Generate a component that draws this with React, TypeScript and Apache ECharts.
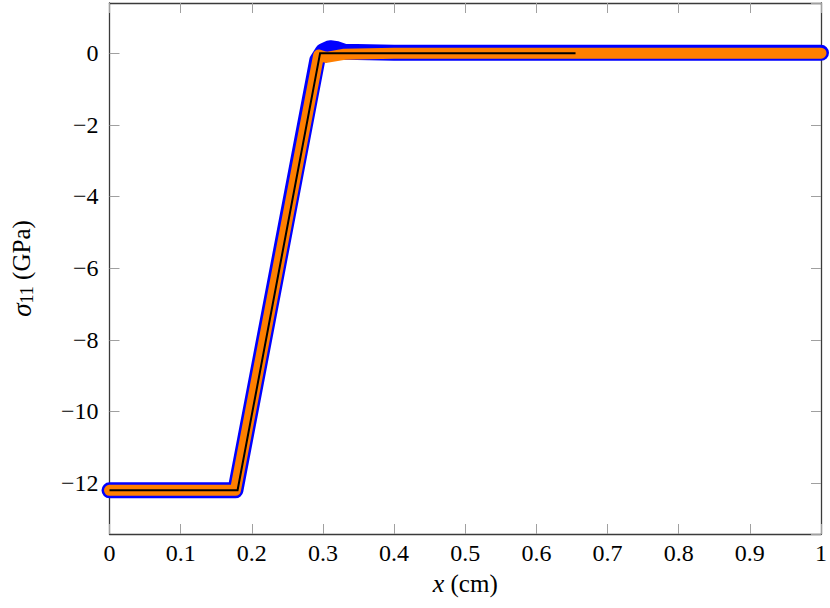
import React, { useEffect, useRef } from "react";
import * as echarts from "echarts";

const blueX = [0, 0.177, 0.292, 0.3, 0.31, 0.32, 0.33, 0.4, 0.65, 1.0];
const blueY = [-12.2, -12.2, -0.2, 0.05, 0.14, 0.11, 0.04, 0.01, 0.01, 0.01];

const orangeX = [0, 0.177, 0.294, 0.305, 0.33, 0.4, 1.0];
const orangeY = [-12.2, -12.2, -0.05, -0.12, -0.03, 0.0, 0.0];

const blackX = [0, 0.18, 0.296, 0.655];
const blackY = [-12.2, -12.2, 0.0, 0.0];

const xTicks = [0, 0.1, 0.2, 0.3, 0.4, 0.5, 0.6, 0.7, 0.8, 0.9, 1];
const yTicks = [-12, -10, -8, -6, -4, -2, 0];

const FONT = "'Liberation Serif', 'DejaVu Serif', serif";

function pairs(xs: number[], ys: number[]) {
  return xs.map((x, i) => [x, ys[i]]);
}

export default function App() {
  const ref = useRef<HTMLDivElement>(null);
  useEffect(() => {
    document.body.style.margin = "0";
    const chart = echarts.init(ref.current!, undefined, { renderer: "svg" });
    const axisLine = { show: true, onZero: false, lineStyle: { color: "#3a3a3a", width: 1.3 } };
    const tick = { show: true, inside: true, length: 10, lineStyle: { color: "#a0a0a0", width: 1 } };
    const xBase = { type: "value", min: 0, max: 1, interval: 0.1, splitLine: { show: false }, axisLine, axisTick: tick };
    const yBase = { type: "value", min: -13.42, max: 1.4, splitNumber: 7, splitLine: { show: false }, axisLine, axisTick: tick };
    const tickRich = { t: { fontFamily: FONT, fontSize: 24, color: "#000" } };
    chart.setOption({
      animation: false,
      textStyle: { fontFamily: FONT, fontSize: 24, color: "#000" },
      grid: { left: 104, right: 8, top: 3, bottom: 74, containLabel: false },
      xAxis: [
        {
          ...xBase,
          position: "bottom",
          axisLabel: {
            fontFamily: FONT,
            fontSize: 24,
            color: "#000",
            margin: 7,
            rich: tickRich,
            formatter: (v: number) => {
              const t = xTicks.find((k) => Math.abs(k - v) < 1e-6);
              return t === undefined ? "" : "{t|" + String(t) + "}";
            },
          },
          name: "{i|x} (cm)",
          nameLocation: "middle",
          nameGap: 36,
          nameTextStyle: {
            fontFamily: FONT,
            fontSize: 25,
            color: "#000",
            rich: { i: { fontFamily: FONT, fontSize: 26, fontStyle: "italic", color: "#000" } },
          },
        },
        { ...xBase, position: "top", axisLabel: { show: false } },
      ],
      yAxis: [
        {
          ...yBase,
          position: "left",
          axisLabel: {
            fontFamily: FONT,
            fontSize: 24,
            color: "#000",
            margin: 11,
            showMinLabel: false,
            showMaxLabel: false,
            rich: tickRich,
            formatter: (v: number) => {
              const t = yTicks.find((k) => Math.abs(k - v) < 1e-6);
              if (t === undefined) return "";
              return "{t|" + (t < 0 ? "\u2212" + Math.abs(t) : String(t)) + "}";
            },
          },
          name: "{s|σ}{b|11}{n| (GPa)}",
          nameLocation: "middle",
          nameGap: 74,
          nameTextStyle: {
            fontFamily: FONT,
            fontSize: 25,
            color: "#000",
            rich: {
              s: { fontFamily: FONT, fontSize: 27, fontStyle: "italic", color: "#000", verticalAlign: "middle" },
              b: { fontFamily: FONT, fontSize: 18, color: "#000", verticalAlign: "bottom", padding: [10, 0, 0, 0] },
              n: { fontFamily: FONT, fontSize: 25, color: "#000", verticalAlign: "middle" },
            },
          },
        },
        { ...yBase, position: "right", axisLabel: { show: false } },
      ],
      series: [
        {
          type: "line",
          data: pairs(blueX, blueY),
          symbol: "none",
          clip: false,
          lineStyle: { color: "#0000ff", width: 16, cap: "round", join: "round" },
          z: 2,
        },
        {
          type: "line",
          data: pairs(orangeX, orangeY),
          symbol: "none",
          clip: false,
          lineStyle: { color: "#ff7f00", width: 11, cap: "round", join: "round" },
          z: 3,
        },
        {
          type: "line",
          data: pairs(blackX, blackY),
          symbol: "none",
          clip: false,
          lineStyle: { color: "#000000", width: 2, cap: "butt", join: "miter" },
          z: 4,
        },
      ],
    });
    return () => chart.dispose();
  }, []);
  return <div ref={ref} style={{ width: 830, height: 608 }} />;
}
